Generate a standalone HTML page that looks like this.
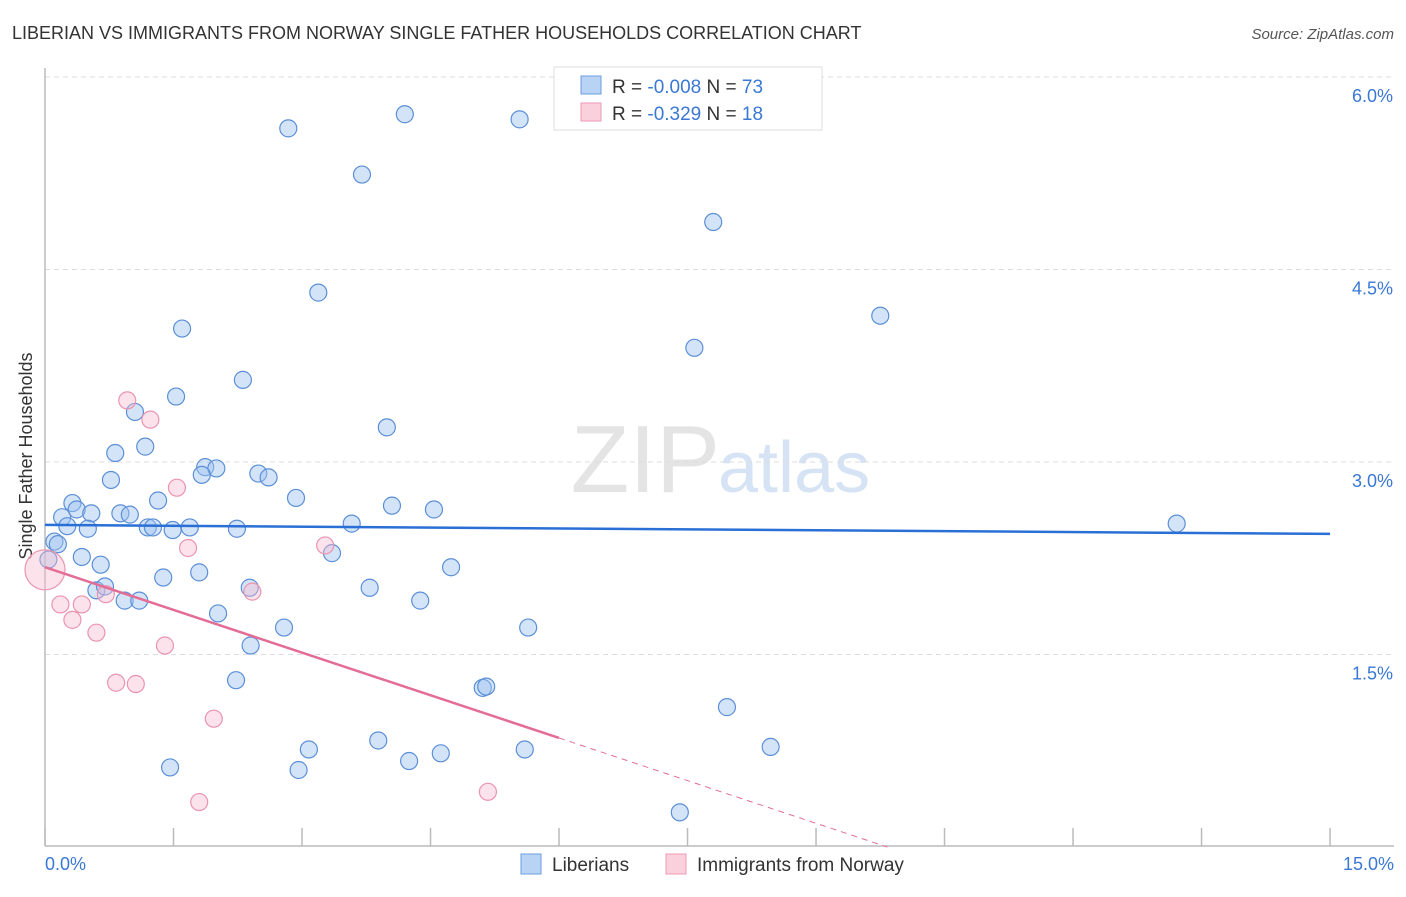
<!DOCTYPE html>
<html><head><meta charset="utf-8"><style>
body{margin:0;background:#fff;font-family:"Liberation Sans",sans-serif;}
svg text{font-family:"Liberation Sans",sans-serif;}
</style></head><body>
<svg id="c" width="1406" height="892" xmlns="http://www.w3.org/2000/svg">
<text x="12" y="39" font-size="18" fill="#333">LIBERIAN VS IMMIGRANTS FROM NORWAY SINGLE FATHER HOUSEHOLDS CORRELATION CHART</text>
<text x="1394" y="39" font-size="15" fill="#555" font-style="italic" text-anchor="end">Source: ZipAtlas.com</text>
<text x="720" y="492" font-size="96" fill="#e4e4e4" font-family="Liberation Serif" text-anchor="end">ZIP</text>
<text x="718" y="492" font-size="72" fill="#d6e3f5">atlas</text>
<g id="grid"></g>
<line x1="45" y1="68" x2="45" y2="846" stroke="#bbb" stroke-width="1.5"/>
<line x1="45" y1="846" x2="1394" y2="846" stroke="#bbb" stroke-width="1.5"/>
<text x="36" y="456" font-size="18" fill="#333" text-anchor="middle" transform="rotate(-90 36 456)" dy="-4">Single Father Households</text>
<text x="45" y="870" font-size="18" fill="#3a78d4">0.0%</text>
<text x="1394" y="870" font-size="18" fill="#3a78d4" text-anchor="end">15.0%</text>
<g id="ylabels"></g>
<g id="pts"></g>
<g id="trend"></g>
<rect x="554" y="67" width="268" height="63" fill="#fff" stroke="#ddd"/>
<rect x="581" y="76" width="20" height="18" fill="#b9d3f5" stroke="#6b9de0"/>
<rect x="581" y="103" width="20" height="18" fill="#fbd0dd" stroke="#ec9ab3"/>
<text x="612" y="93" font-size="19" fill="#333">R = <tspan fill="#3a78d4">-0.008</tspan>   N = <tspan fill="#3a78d4">73</tspan></text>
<text x="612" y="120" font-size="19" fill="#333">R =  <tspan fill="#3a78d4">-0.329</tspan>   N =  <tspan fill="#3a78d4">18</tspan></text>
<rect x="521" y="854" width="20" height="20" fill="#b9d3f5" stroke="#6b9de0"/>
<text x="552" y="871" font-size="19" fill="#333">Liberians</text>
<rect x="666" y="854" width="20" height="20" fill="#fbd0dd" stroke="#ec9ab3"/>
<text x="697" y="871" font-size="19" fill="#333">Immigrants from Norway</text>
</svg>
<script>
const yTicks=[1.5,3.0,4.5,6.0];
const yTickLabels=["1.5%","3.0%","4.5%","6.0%"];
const xTicks=[0,1.5,3,4.5,6,7.5,9,10.5,12,13.5,15];
const libX=[2.84,4.20,5.54,3.70,7.80,3.19,9.75,1.60,7.58,2.31,1.53,1.05,3.99,1.17,0.82,1.87,2.00,1.83,2.49,2.61,0.77,2.93,0.32,1.32,0.37,0.54,4.05,4.54,0.20,0.88,0.99,0.26,0.50,1.20,1.26,1.49,1.69,2.24,3.58,13.21,0.11,0.15,0.43,3.35,0.65,4.74,1.38,1.80,0.60,0.70,2.39,3.79,0.93,1.10,4.38,2.02,2.79,5.64,2.40,2.23,5.11,5.15,7.96,3.89,3.08,5.60,8.47,4.62,4.25,1.46,2.96,7.41,0.04];
const libY=[5.60,5.71,5.67,5.24,4.87,4.32,4.14,4.04,3.89,3.64,3.51,3.39,3.27,3.12,3.07,2.96,2.95,2.90,2.91,2.88,2.86,2.72,2.68,2.70,2.63,2.60,2.66,2.63,2.57,2.60,2.59,2.50,2.48,2.49,2.49,2.47,2.49,2.48,2.52,2.52,2.38,2.36,2.26,2.29,2.20,2.18,2.10,2.14,2.00,2.03,2.02,2.02,1.92,1.92,1.92,1.82,1.71,1.71,1.57,1.30,1.24,1.25,1.09,0.83,0.76,0.76,0.78,0.73,0.67,0.62,0.60,0.27,2.24];
const norX=[0.96,1.23,1.54,1.67,3.27,2.42,0.71,0.18,0.43,0.32,0.60,1.40,0.83,1.06,1.97,1.80,5.17,0.0];
const norY=[3.48,3.33,2.80,2.33,2.35,1.99,1.97,1.89,1.89,1.77,1.67,1.57,1.28,1.27,1.00,0.35,0.43,2.16];
const libTrend=[2.51,2.44]; // at x=0 and x=15
const norTrend=[2.18,-0.2217]; // intercept, slope
const norSolidEnd=6.0;
const X=v=>45+v*85.67, Y=v=>847-v*128.33;
const NS="http://www.w3.org/2000/svg";
function mk(t,a,p){const e=document.createElementNS(NS,t);for(const k in a)e.setAttribute(k,a[k]);p.appendChild(e);return e;}
const grid=document.getElementById('grid'),yl=document.getElementById('ylabels');
yTicks.forEach((v,i)=>{
 const l=mk('line',{x1:45,x2:1394,y1:Y(v),y2:Y(v),stroke:'#ddd','stroke-dasharray':'5,4'},grid);
 
 
 const t=mk('text',{x:1393,y:Y(v)+25,'font-size':18,fill:'#3a78d4','text-anchor':'end'},yl);
 t.textContent=yTickLabels[i];
 
 
});
xTicks.forEach(v=>{
 const l=mk('line',{x1:X(v),x2:X(v),y1:828,y2:846,stroke:'#bbb','stroke-width':1.5},grid);
 
 
});
const pts=document.getElementById('pts');
libX.forEach((x,i)=>{
 const c=mk('circle',{cx:X(x),cy:Y(libY[i]),r:8.5,fill:'rgba(160,196,240,0.45)',stroke:'#5b8fd8','stroke-width':1.2},pts);
 
 
});
norX.forEach((x,i)=>{
 const c=mk('circle',{cx:X(x),cy:Y(norY[i]),r:i==norX.length-1?20:8.5,fill:'rgba(247,185,205,0.4)',stroke:'#eb94af','stroke-width':1.2},pts);
 
 
});
const tr=document.getElementById('trend');
const bl=mk('line',{x1:X(0),y1:Y(libTrend[0]),x2:X(15),y2:Y(libTrend[1]),stroke:'#2a6fd6','stroke-width':2.5},tr);


const pe=x=>norTrend[0]+norTrend[1]*x;
const pl=mk('line',{x1:X(0),y1:Y(pe(0)),x2:X(norSolidEnd),y2:Y(pe(norSolidEnd)),stroke:'#e46d95','stroke-width':2.5},tr);


const zx=-norTrend[0]/norTrend[1];
const pd=mk('line',{x1:X(norSolidEnd),y1:Y(pe(norSolidEnd)),x2:X(zx),y2:Y(0),stroke:'#e46d95','stroke-width':1,'stroke-dasharray':'6,5'},tr);


</script>
</body></html>
